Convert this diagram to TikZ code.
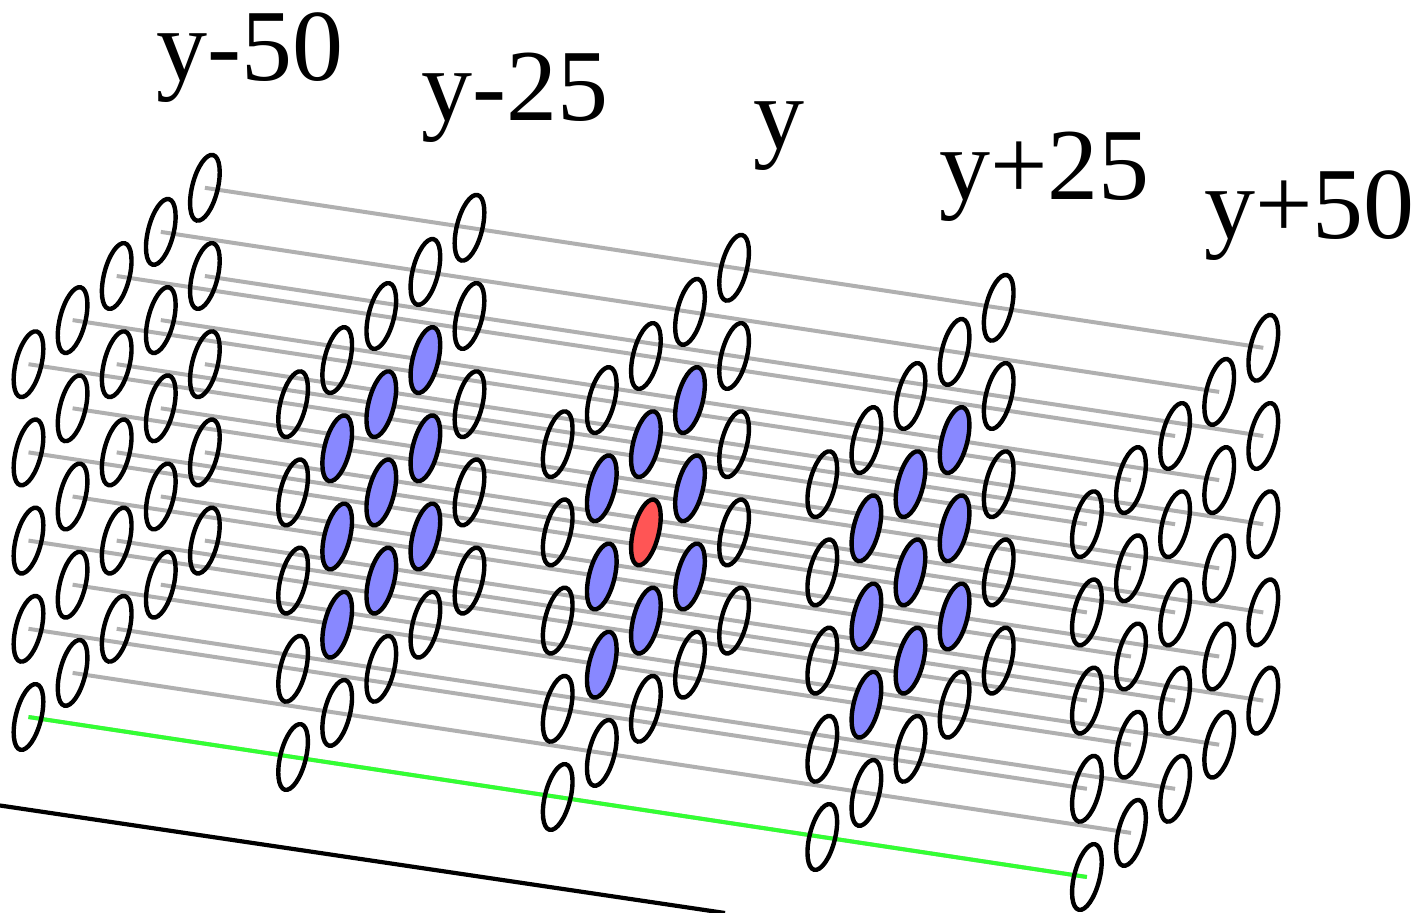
\documentclass[tikz,border=0pt]{standalone}
\usepackage{fontspec}
\setmainfont{Liberation Serif}
\usetikzlibrary{shapes.geometric}
\pgfdeclarelayer{lines}
\pgfsetlayers{lines,main}
\definecolor{cellblue}{HTML}{8888FF}
\definecolor{cellred}{HTML}{FF5555}
\definecolor{wiregray}{HTML}{B0B0B0}
\definecolor{wiregreen}{HTML}{33FF33}
\tikzset{
  cell/.style={ellipse,draw=black,line width=4.4pt,minimum width=25.5pt,minimum height=67.5pt,inner sep=0pt,outer sep=0pt,rotate=-14},
  cellb/.style={cell,fill=cellblue},
  cellr/.style={cell,fill=cellred},
  wire/.style={draw=wiregray,line width=4pt},
  wireg/.style={draw=wiregreen,line width=4pt},
  lab/.style={anchor=base west,inner sep=0pt,font=\fontsize{102}{102}\selectfont}
}
\begin{document}
\begin{tikzpicture}[x=1pt,y=-1pt]
\useasboundingbox (0,0) rectangle (1422,913);
\node[lab] (l0) at (156,80) {y-50};
\node[lab] (l1) at (421,120) {y-25};
\node[lab] (l2) at (753,148) {y};
\node[lab] (l3) at (939,199) {y+25};
\node[lab] (l4) at (1204,238) {y+50};
\foreach \p in {0,...,4}{
  \foreach \i in {0,...,4}{
    \foreach \j in {0,...,4}{
      \pgfmathsetmacro{\cx}{28.5+264.6*\p+44.1*\i}
      \pgfmathsetmacro{\cy}{717+40*\p-44.1*\i-88.2*\j}
      \pgfmathtruncatemacro{\inner}{(\p>0)&&(\p<4)&&(\i>0)&&(\i<4)&&(\j>0)&&(\j<4)?1:0}
      \pgfmathtruncatemacro{\centre}{(\p==2)&&(\i==2)&&(\j==2)?1:0}
      \ifnum\centre=1
        \node[cellr] (c\p\i\j) at (\cx,\cy) {};
      \else\ifnum\inner=1
        \node[cellb] (c\p\i\j) at (\cx,\cy) {};
      \else
        \node[cell] (c\p\i\j) at (\cx,\cy) {};
      \fi\fi
    }
  }
}
\begin{pgfonlayer}{lines}
\foreach \i in {0,...,4}{
  \foreach \j in {0,...,4}{
    \draw[wire] (c0\i\j.center) -- (c4\i\j.center);
  }
}
\draw[wireg] (c000.center) -- (c400.center);
\end{pgfonlayer}
\coordinate (axisA) at (0,805.5);
\coordinate (axisB) at (725,913);
\draw[black,line width=4.2pt] (axisA) -- (axisB);
\end{tikzpicture}
\end{document}
